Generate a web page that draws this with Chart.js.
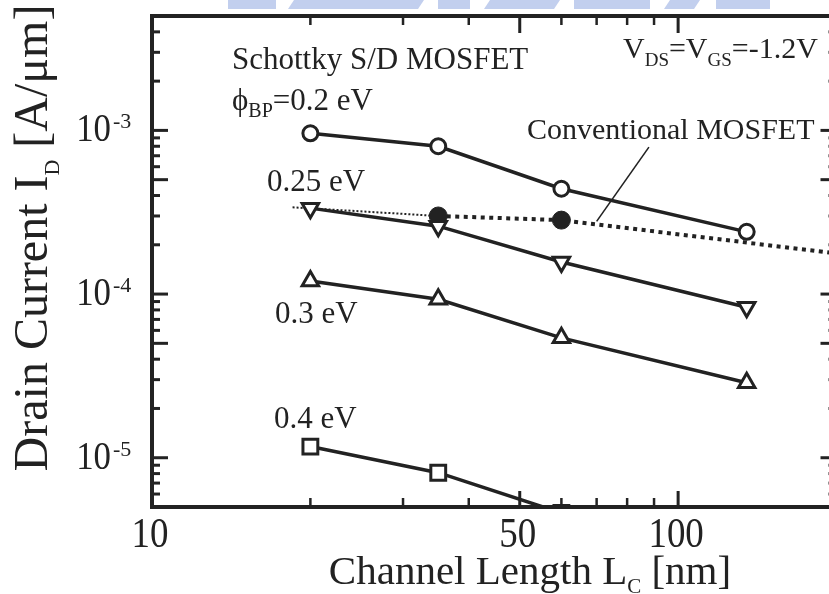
<!DOCTYPE html>
<html>
<head>
<meta charset="utf-8">
<script src="https://cdn.jsdelivr.net/npm/chart.js@4.4.1/dist/chart.umd.min.js"></script>
<style>
html, body { margin: 0; padding: 0; background: #fff; overflow: hidden; }
#wrap { position: relative; width: 850px; height: 594px; }
</style>
</head>
<body>
<div id="wrap"><canvas id="chart" width="850" height="594"></canvas></div>
<script>
// Channel lengths of the Schottky devices (nm)
var lengths = [20, 35, 60, 135];
// Drain current (A/um) for each barrier height
var phi020 = [9.6e-4, 8.0e-4, 4.4e-4, 2.4e-4];
var phi025 = [3.35e-4, 2.6e-4, 1.57e-4, 8.3e-5];
var phi030 = [1.2e-4, 9.3e-5, 5.4e-5, 2.87e-5];
var phi040 = [1.17e-5, 8.1e-6, 4.6e-6];
// Conventional MOSFET points and its trend line
var convLengths = [35, 60];
var convCurrent = [3.0e-4, 2.83e-4];
var trendThinLengths = [18.5, 35];
var trendThinCurrent = [3.39e-4, 3.0e-4];
var trendLengths = [35, 60, 200];
var trendCurrent = [3.0e-4, 2.83e-4, 1.77e-4];
// leader line from the "Conventional MOSFET" label
var leaderLengths = [88, 70];
var leaderCurrent = [7.9e-4, 2.78e-4];
// axis ticks
var xMinor = [20, 30, 40, 60, 70, 80, 90];
var xMajor = [50, 100];
var xTickLabels = [10, 50, 100];
var yDecades = [-5, -4, -3];

var INK = '#222';
var SERIF = "'Liberation Serif', 'Times New Roman', serif";

function pts(xs, ys) {
    var out = [];
    for (var i = 0; i < ys.length; i++) {
        if (ys[i] != null) out.push({ x: xs[i], y: ys[i] });
    }
    return out;
}

// draws text made of parts [text, kind] where kind is 0 normal, 1 subscript, -1 superscript
function drawRich(ctx, parts, x, y, size, opt) {
    opt = opt || {};
    var sx = opt.squeeze || 1;
    var small = opt.small || size * 0.62;
    var subShift = opt.subShift != null ? opt.subShift : size * 0.22;
    var supShift = opt.supShift != null ? opt.supShift : size * 0.4;
    var widths = [], total = 0;
    parts.forEach(function (p) {
        ctx.font = (p[1] ? small : size) + 'px ' + SERIF;
        var w = ctx.measureText(p[0]).width;
        widths.push(w);
        total += w;
    });
    ctx.save();
    ctx.translate(x, y);
    if (opt.rotate) ctx.rotate(opt.rotate);
    ctx.scale(sx, 1);
    ctx.fillStyle = INK;
    ctx.textBaseline = 'alphabetic';
    ctx.textAlign = 'left';
    var cx = 0;
    if (opt.align === 'center') cx = -total / 2;
    if (opt.align === 'right') cx = -total;
    parts.forEach(function (p, i) {
        ctx.font = (p[1] ? small : size) + 'px ' + SERIF;
        var dy = p[1] === 1 ? subShift : (p[1] === -1 ? -supShift : 0);
        ctx.fillText(p[0], cx, dy);
        cx += widths[i];
    });
    ctx.restore();
}

function line(ctx, x1, y1, x2, y2, w) {
    ctx.lineWidth = w;
    ctx.beginPath();
    ctx.moveTo(x1, y1);
    ctx.lineTo(x2, y2);
    ctx.stroke();
}

var framePlugin = {
    id: 'frame',
    beforeDraw: function (chart) {
        var ctx = chart.ctx;
        // faint blue watermark strip at the top
        ctx.save();
        ctx.fillStyle = '#c2cfee';
        [[228, 276], [288, 424], [438, 470], [484, 560], [574, 650], [664, 700], [716, 770]].forEach(function (s, i) {
            ctx.beginPath();
            var k = i % 2 ? 6 : 0;
            ctx.moveTo(s[0] + k, 0);
            ctx.lineTo(s[1], 0);
            ctx.lineTo(s[1] - k, 9);
            ctx.lineTo(s[0], 9);
            ctx.closePath();
            ctx.fill();
        });
        ctx.restore();
    },
    afterDraw: function (chart) {
        var ctx = chart.ctx, a = chart.chartArea;
        var xs = chart.scales.x, ys = chart.scales.y;
        ctx.save();
        ctx.strokeStyle = INK;
        ctx.lineCap = 'butt';

        // x ticks, top and bottom, pointing inward
        xMinor.forEach(function (v) {
            var px = xs.getPixelForValue(v);
            line(ctx, px, a.bottom, px, a.bottom - 9, 2.5);
            line(ctx, px, a.top, px, a.top + 9, 2.5);
        });
        xMajor.forEach(function (v) {
            var px = xs.getPixelForValue(v);
            line(ctx, px, a.bottom, px, a.bottom - 16, 3);
            line(ctx, px, a.top, px, a.top + 17, 3);
        });

        // y ticks, left and right
        for (var d = -6; d <= -3; d++) {
            for (var m = 1; m <= 9; m++) {
                var v = m * Math.pow(10, d);
                if (v < ys.min * 0.999 || v > ys.max * 1.001) continue;
                var py = ys.getPixelForValue(v);
                var len = (m === 1 || m === 5) ? 16 : 8;
                line(ctx, a.left, py, a.left + len, py, 3);
                line(ctx, a.right, py, a.right - len, py, 3);
            }
        }

        // spines
        ctx.lineCap = 'square';
        line(ctx, a.left, a.top, a.right, a.top, 4);
        line(ctx, a.left, a.bottom, a.right, a.bottom, 4);
        line(ctx, a.left, a.top, a.left, a.bottom, 4);
        line(ctx, a.right, a.top, a.right, a.bottom, 4);

        // leader line for the conventional MOSFET label
        ctx.lineCap = 'butt';
        line(ctx, xs.getPixelForValue(leaderLengths[0]), ys.getPixelForValue(leaderCurrent[0]),
            xs.getPixelForValue(leaderLengths[1]), ys.getPixelForValue(leaderCurrent[1]), 1.6);
        ctx.restore();

        // tick labels
        xTickLabels.forEach(function (v) {
            drawRich(ctx, [[String(v), 0]], xs.getPixelForValue(v) - 2, 547, 42, { align: 'center', squeeze: 0.88 });
        });
        yDecades.forEach(function (d) {
            var py = ys.getPixelForValue(Math.pow(10, d));
            drawRich(ctx, [['10', 0]], 111, py + 11, 41, { align: 'right', squeeze: 0.85 });
            drawRich(ctx, [[String(d), 0]], 113, py - 2, 22, {});
        });

        // axis titles
        drawRich(ctx, [['Channel Length L', 0], ['C', 1], [' [nm]', 0]], 530, 584, 41,
            { align: 'center', small: 21, subShift: 9 });
        ctx.save();
        ctx.translate(47, 238);
        drawRich(ctx, [['Drain Current I', 0], ['D', 1], [' [A/\u03bcm]', 0]], 0, 0, 48,
            { align: 'center', small: 22, subShift: 12, rotate: -Math.PI / 2 });
        ctx.restore();

        // annotations
        drawRich(ctx, [['Schottky S/D MOSFET', 0]], 232, 69, 31);
        drawRich(ctx, [['\u03d5', 0], ['BP', 1], ['=0.2 eV', 0]], 232, 110, 31, { small: 20, subShift: 7 });
        drawRich(ctx, [['V', 0], ['DS', 1], ['=V', 0], ['GS', 1], ['=-1.2V', 0]], 623, 58, 30, { small: 19, subShift: 8 });
        drawRich(ctx, [['Conventional MOSFET', 0]], 527, 139, 30);
        drawRich(ctx, [['0.25 eV', 0]], 267, 191, 31);
        drawRich(ctx, [['0.3 eV', 0]], 275, 323, 31);
        drawRich(ctx, [['0.4 eV', 0]], 274, 428, 31);
    }
};

function series(xs, ys, style, radius, extra) {
    var ds = {
        data: pts(xs, ys),
        borderColor: INK,
        borderWidth: 3.5,
        tension: 0,
        pointStyle: style,
        pointRadius: radius,
        pointBorderWidth: 3,
        pointBorderColor: INK,
        pointBackgroundColor: '#fff'
    };
    for (var k in extra) ds[k] = extra[k];
    return ds;
}

var ctx = document.getElementById('chart').getContext('2d');
var chart = new Chart(ctx, {
    type: 'line',
    data: {
        datasets: [
            series(lengths, phi025, 'triangle', 9.5, { pointRotation: 180, label: '0.25 eV' }),
            series(lengths, phi020, 'circle', 7.5, { label: '0.2 eV' }),
            series(lengths, phi030, 'triangle', 9.5, { label: '0.3 eV' }),
            series(lengths, phi040, 'rect', 10.5, { label: '0.4 eV' }),
            series(convLengths, convCurrent, 'circle', 9, {
                label: 'Conventional MOSFET', showLine: false, pointBackgroundColor: INK, pointBorderWidth: 1
            }),
            {
                label: 'Conventional trend',
                data: pts(trendLengths, trendCurrent),
                borderColor: INK, borderWidth: 4, borderDash: [4, 4.5], tension: 0, pointRadius: 0
            },
            {
                label: 'Conventional trend (short)',
                data: pts(trendThinLengths, trendThinCurrent),
                borderColor: INK, borderWidth: 2, borderDash: [2, 2], tension: 0, pointRadius: 0
            }
        ]
    },
    options: {
        responsive: false,
        animation: false,
        devicePixelRatio: 1,
        layout: { padding: { left: 152, top: 16, right: 12, bottom: 87 } },
        plugins: { legend: { display: false }, tooltip: { enabled: false } },
        scales: {
            x: { type: 'logarithmic', min: 10, max: 200, display: false },
            y: { type: 'logarithmic', min: 5e-6, max: 5e-3, display: false }
        }
    },
    plugins: [framePlugin]
});
</script>
</body>
</html>
